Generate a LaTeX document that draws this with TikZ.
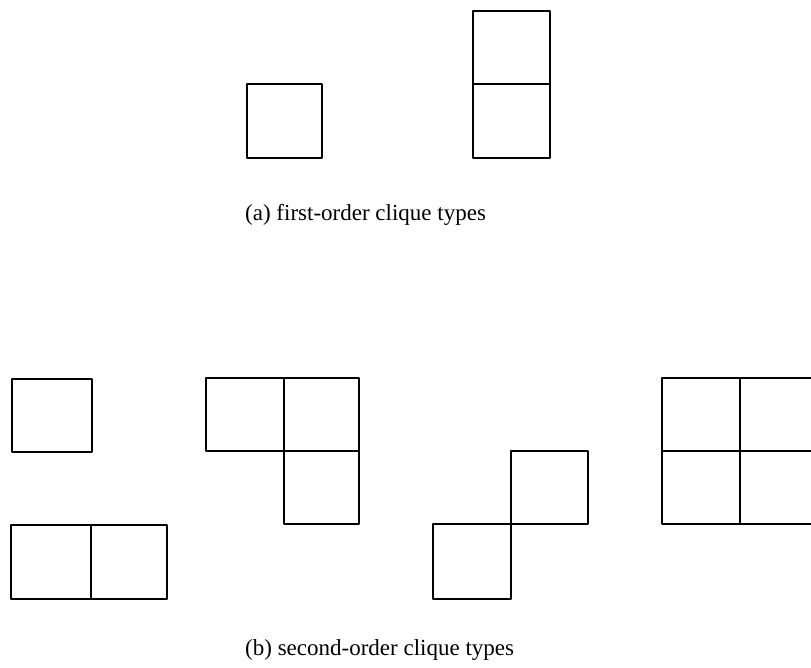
\documentclass[tikz,border=0pt]{standalone}
\usepackage{fontspec}
\setmainfont{Liberation Serif}
\begin{document}
\begin{tikzpicture}[x=1pt,y=-1pt,
  cell/.style={draw=black,line width=2.2pt,line join=round},
  captext/.style={anchor=west,inner sep=0pt,font=\fontsize{23}{26}\selectfont}]
\useasboundingbox (0,0) rectangle (811,668);
\clip (0,0) rectangle (811,668);
% (a) first-order
\draw[cell] (247,84) rectangle (322,158);
\draw[cell] (473,11) rectangle (550,158);
\draw[cell] (473,84) -- (550,84);
\node[captext] (capa) at (245,215) {(a) first-order clique types};
% (b) second-order
\draw[cell] (12,379) rectangle (92,452);
\draw[cell] (11,525) rectangle (167,599);
\draw[cell] (91,525) -- (91,599);
\draw[cell] (206,378) -- (359,378) -- (359,524) -- (284,524) -- (284,451) -- (206,451) -- cycle;
\draw[cell] (284,378) -- (284,451) -- (359,451);
\draw[cell] (511,451) rectangle (588,524);
\draw[cell] (433,524) rectangle (511,599);
\draw[cell] (662,378) rectangle (830,524);
\draw[cell] (740,378) -- (740,524);
\draw[cell] (662,451) -- (830,451);
\node[captext] (capb) at (245,650) {(b) second-order clique types};
\end{tikzpicture}
\end{document}
